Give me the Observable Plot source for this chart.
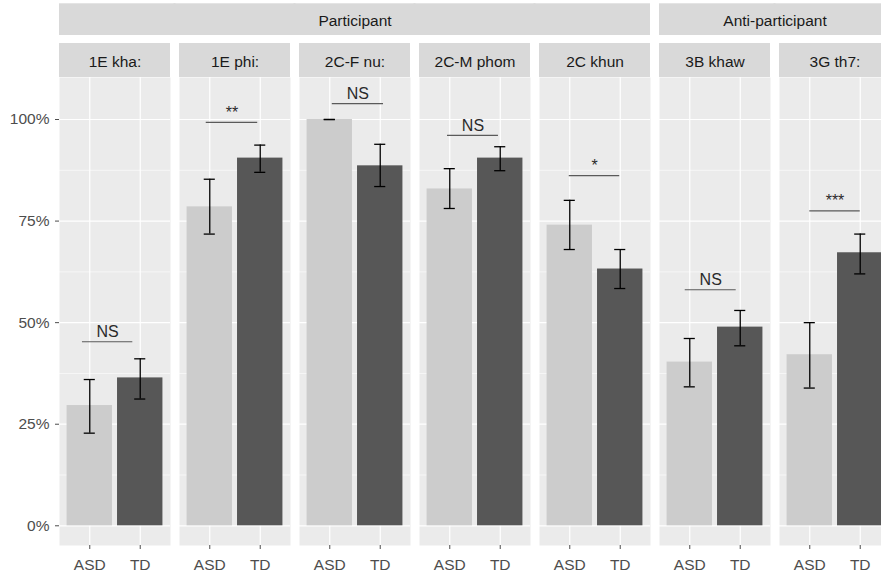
<!DOCTYPE html>
<html>
<head>
<meta charset="utf-8">
<script src="https://cdn.jsdelivr.net/npm/d3@7"></script>
<script src="https://cdn.jsdelivr.net/npm/@observablehq/plot@0.6"></script>
<style>
  html, body { margin: 0; padding: 0; background: #fff; overflow: hidden; }
  #chart svg { display: block; max-width: none !important; }
</style>
</head>
<body>
<div id="chart"></div>
<script>
// Items (facet panels) and the condition each belongs to
const panels = ["1E kha:", "1E phi:", "2C-F nu:", "2C-M phom", "2C khun", "3B khaw", "3G th7:"];
const panelConditions = ["Participant", "Participant", "Participant", "Participant", "Participant",
                         "Anti-participant", "Anti-participant"];
const groups = ["ASD", "TD"];

// Proportion correct per group, with error-bar limits
const asdMean = [0.296, 0.785, 1.000, 0.829, 0.740, 0.403, 0.421];
const asdLow  = [0.228, 0.718, 1.000, 0.781, 0.680, 0.342, 0.339];
const asdHigh = [0.360, 0.853, 1.000, 0.879, 0.801, 0.461, 0.500];
const tdMean  = [0.364, 0.905, 0.886, 0.905, 0.632, 0.489, 0.672];
const tdLow   = [0.312, 0.870, 0.835, 0.874, 0.584, 0.443, 0.620];
const tdHigh  = [0.411, 0.937, 0.939, 0.933, 0.680, 0.530, 0.718];

// Significance annotations: label, bracket height, bracket ends (group units)
const sigLabels = ["NS", "**", "NS", "NS", "*", "NS", "***"];
const sigY      = [0.453, 0.993, 1.039, 0.961, 0.862, 0.581, 0.775];
const sigFrom   = [0.855, 0.93, 1.05, 0.955, 0.99, 0.91, 1.00];
const sigTo     = [1.853, 1.95, 2.065, 1.965, 1.99, 1.92, 2.00];

// Axis breaks
const yTicks = [0, 0.25, 0.5, 0.75, 1];
const yMinor = [0.125, 0.375, 0.625, 0.875];
const xTicks = [1, 2];

// Layout
const W = 895, H = 579, mL = 59, mR = 5, mT = 77, mB = 34;
const frameBottom = H - mB;
const panelPad = 0.075;
const step = (W - mL - mR) / (panels.length - panelPad);
const halfGap = step * panelPad / 2;
const innerStrip = {top: 43, bottom: 77, text: 61.5};
const outerStrip = {top: 3.3, bottom: 35, text: 20.5};
const font = "'Liberation Sans', Arial, Helvetica, sans-serif";

const rows = panels.flatMap((p, i) => groups.map((g, j) => ({
  panel: p, group: g, pos: j + 1,
  mean: j ? tdMean[i] : asdMean[i],
  low: j ? tdLow[i] : asdLow[i],
  high: j ? tdHigh[i] : asdHigh[i]
})));

const sig = panels.map((p, i) => ({panel: p, label: sigLabels[i], y: sigY[i], from: sigFrom[i], to: sigTo[i]}));

// Condition strips spanning consecutive panels
const conditionRuns = [];
panelConditions.forEach((c, i) => {
  const last = conditionRuns[conditionRuns.length - 1];
  if (last && last.name === c) last.end = i; else conditionRuns.push({name: c, start: i, end: i});
});

const outerStripMarks = [];
const stripCommon = {
  fill: "#D9D9D9",
  insetTop: outerStrip.top - mT,
  insetBottom: frameBottom - outerStrip.bottom
};
for (const run of conditionRuns) {
  for (let i = run.start; i <= run.end; i++) {
    // interior joins overlap a little so adjacent pieces read as one strip
    outerStripMarks.push(Plot.rect([panels[i]], {
      ...stripCommon,
      fx: d => d,
      insetLeft: i === run.start ? 0 : -halfGap - 1,
      insetRight: i === run.end ? 0 : -halfGap - 1
    }));
  }
  const n = run.end - run.start + 1;
  const mid = run.start + Math.floor((n - 1) / 2);
  outerStripMarks.push(Plot.text([run.name], {
    fx: () => panels[mid],
    text: d => d,
    frameAnchor: "top",
    lineAnchor: "middle",
    dy: outerStrip.text - mT,
    dx: n % 2 ? 0 : step / 2,
    fontSize: 15.5,
    fill: "#1A1A1A"
  }));
}

const chart = Plot.plot({
  width: W,
  height: H,
  marginLeft: mL,
  marginRight: mR,
  marginTop: mT,
  marginBottom: mB,
  style: {fontFamily: font, fontSize: "15.5px", background: "#fff", maxWidth: "none"},
  fx: {domain: panels, paddingInner: panelPad, paddingOuter: 0, round: false, axis: null, label: null},
  x: {domain: [0.4, 2.6]},
  y: {domain: [-0.0485, 1.1034]},
  color: {domain: groups, range: ["#CCCCCC", "#575757"]},
  marks: [
    Plot.frame({fill: "#EBEBEB", stroke: "none"}),
    Plot.ruleY(yMinor, {stroke: "#fff", strokeWidth: 0.6}),
    Plot.ruleY(yTicks, {stroke: "#fff", strokeWidth: 1.2}),
    Plot.ruleX(xTicks, {stroke: "#fff", strokeWidth: 1.2}),
    Plot.rect(rows, {fx: "panel", x1: d => d.pos - 0.45, x2: d => d.pos + 0.45, y1: 0, y2: "mean", fill: "group"}),
    Plot.ruleX(rows, {fx: "panel", x: "pos", y1: "low", y2: "high", stroke: "#000", strokeWidth: 1.3}),
    Plot.ruleY(rows, {fx: "panel", y: "low", x1: d => d.pos - 0.11, x2: d => d.pos + 0.11, stroke: "#000", strokeWidth: 1.3}),
    Plot.ruleY(rows, {fx: "panel", y: "high", x1: d => d.pos - 0.11, x2: d => d.pos + 0.11, stroke: "#000", strokeWidth: 1.3}),
    Plot.ruleY(sig, {fx: "panel", y: "y", x1: "from", x2: "to", stroke: "#5a5a5a", strokeWidth: 1.1}),
    Plot.text(sig, {fx: "panel", x: d => (d.from + d.to) / 2, y: "y", text: "label", dy: -9.6, fontSize: 16, fill: "#2a2a2a"}),
    // panel strips
    Plot.rect(panels, {fx: d => d, fill: "#D9D9D9",
      insetTop: innerStrip.top - mT, insetBottom: frameBottom - innerStrip.bottom}),
    Plot.text(panels, {fx: d => d, text: d => d, frameAnchor: "top", lineAnchor: "middle",
      dy: innerStrip.text - mT, fontSize: 15.5, fill: "#1A1A1A"}),
    ...outerStripMarks,
    Plot.axisY({ticks: yTicks, tickFormat: d3.format(".0%"), tickSize: 4, tickPadding: 6,
      fontSize: 15.5, label: null, color: "#4D4D4D"}),
    Plot.axisX({ticks: xTicks, tickFormat: d => groups[d - 1], tickSize: 4, tickPadding: 9,
      fontSize: 15.5, label: null, color: "#4D4D4D"})
  ]
});

document.getElementById("chart").appendChild(chart);
</script>
</body>
</html>
